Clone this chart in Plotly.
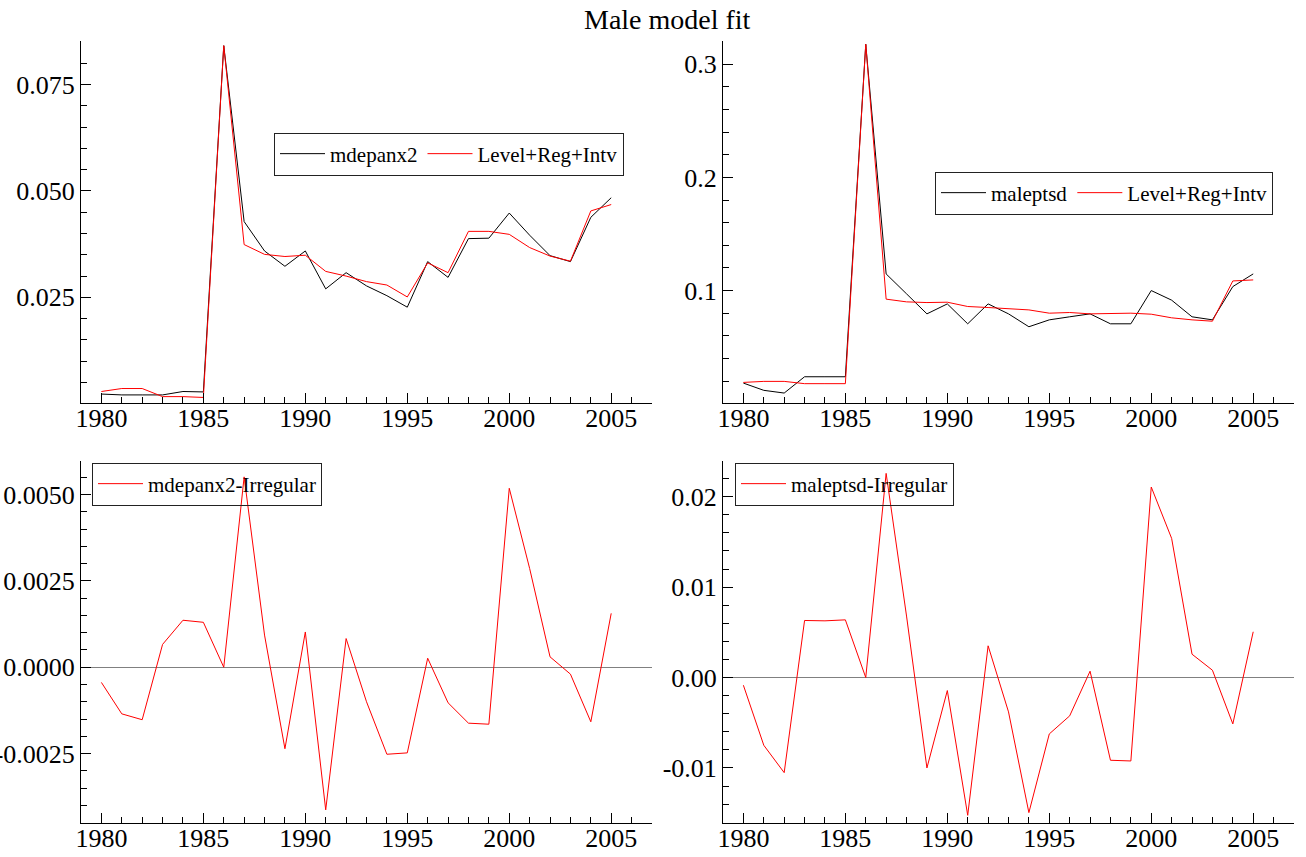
import plotly.graph_objects as go

years = list(range(1980, 2006))

mdepanx2 = [0.0023, 0.0021, 0.0021, 0.0021, 0.0029, 0.0028, 0.0841, 0.0428, 0.0359, 0.0323,
            0.0359, 0.0270, 0.0308, 0.0277, 0.0254, 0.0227, 0.0334, 0.0297, 0.0388, 0.0389,
            0.0448, 0.0396, 0.0348, 0.0334, 0.0438, 0.0484]
mdepanx2_fit = [0.0029, 0.0036, 0.0036, 0.0017, 0.0017, 0.0015, 0.0841, 0.0374, 0.0351, 0.0346,
                0.0349, 0.0311, 0.0300, 0.0287, 0.0279, 0.0251, 0.0331, 0.0308, 0.0405, 0.0405,
                0.0398, 0.0367, 0.0347, 0.0335, 0.0453, 0.0468]
maleptsd = [0.0182, 0.0118, 0.0094, 0.0238, 0.0238, 0.0238, 0.3177, 0.1147, 0.0971, 0.0794,
            0.0882, 0.0706, 0.0882, 0.0794, 0.0680, 0.0741, 0.0768, 0.0794, 0.0706, 0.0706,
            0.1000, 0.0915, 0.0768, 0.0741, 0.1035, 0.1147]
maleptsd_fit = [0.0188, 0.0197, 0.0197, 0.0177, 0.0177, 0.0177, 0.3177, 0.0924, 0.0900, 0.0894,
                0.0897, 0.0859, 0.0850, 0.0838, 0.0829, 0.0800, 0.0806, 0.0794, 0.0800, 0.0800,
                0.0791, 0.0759, 0.0741, 0.0729, 0.1085, 0.1094]
mdepanx2_irr = [-0.00044, -0.00135, -0.00152, 0.00066, 0.00136, 0.00130, 0.0, 0.00551, 0.00093, -0.00236,
                0.00102, -0.00413, 0.00083, -0.00100, -0.00252, -0.00248, 0.00026, -0.00103, -0.00162, -0.00165,
                0.00518, 0.00286, 0.00030, -0.00020, -0.00158, 0.00156]
maleptsd_irr = [-0.00085, -0.00749, -0.01052, 0.00631, 0.00627, 0.00638, 0.0, 0.02258, 0.0068, -0.0100,
                -0.00144, -0.01524, 0.00351, -0.00380, -0.01494, -0.00624, -0.00424, 0.00070, -0.00915, -0.00923,
                0.02107, 0.01539, 0.00258, 0.00081, -0.00513, 0.00506]

x_ticks = [1980, 1985, 1990, 1995, 2000, 2005]
x_ticktext = ["1980", "1985", "1990", "1995", "2000", "2005"]
tl_ticks = [0.025, 0.050, 0.075]
tl_text = ["0.025", "0.050", "0.075"]
tr_ticks = [0.1, 0.2, 0.3]
tr_text = ["0.1", "0.2", "0.3"]
bl_ticks = [-0.0025, 0.0, 0.0025, 0.0050]
bl_text = ["-0.0025", "0.0000", "0.0025", "0.0050"]
br_ticks = [-0.01, 0.0, 0.01, 0.02]
br_text = ["-0.01", "0.00", "0.01", "0.02"]

W, H = 1306, 857
FONT = "Liberation Serif"
RED = "#ff0000"

def px_x(a, b):
    return [a / W, b / W]

def px_y(top, bottom):
    return [(H - bottom) / H, (H - top) / H]

fig = go.Figure()
fig.add_trace(go.Scatter(x=years, y=mdepanx2, mode="lines", name="mdepanx2",
                         line=dict(color="black", width=1), xaxis="x", yaxis="y", legend="legend"))
fig.add_trace(go.Scatter(x=years, y=mdepanx2_fit, mode="lines", name="Level+Reg+Intv",
                         line=dict(color=RED, width=1), xaxis="x", yaxis="y", legend="legend"))
fig.add_trace(go.Scatter(x=years, y=maleptsd, mode="lines", name="maleptsd",
                         line=dict(color="black", width=1), xaxis="x2", yaxis="y2", legend="legend2"))
fig.add_trace(go.Scatter(x=years, y=maleptsd_fit, mode="lines", name="Level+Reg+Intv",
                         line=dict(color=RED, width=1), xaxis="x2", yaxis="y2", legend="legend2"))
fig.add_trace(go.Scatter(x=years, y=mdepanx2_irr, mode="lines", name="mdepanx2-Irregular",
                         line=dict(color=RED, width=1), xaxis="x3", yaxis="y3", legend="legend3"))
fig.add_trace(go.Scatter(x=years, y=maleptsd_irr, mode="lines", name="maleptsd-Irregular",
                         line=dict(color=RED, width=1), xaxis="x4", yaxis="y4", legend="legend4"))

tickfont = dict(family=FONT, size=26, color="black")

def xaxis(domain, anchor):
    return dict(domain=domain, anchor=anchor, range=[1979, 2007], automargin=False,
                tickvals=x_ticks, ticktext=x_ticktext, ticks="inside", ticklen=10,
                tickcolor="black", tickwidth=1,
                minor=dict(dtick=1, tick0=1979, ticks="inside", ticklen=6, tickcolor="black", tickwidth=1),
                showline=True, linecolor="black", linewidth=1, showgrid=False, zeroline=False,
                tickfont=tickfont, ticklabelstandoff=-8)

def yaxis(domain, anchor, rng, tv, tt, mdt, zl=False):
    return dict(domain=domain, anchor=anchor, range=rng, automargin=False,
                tickvals=tv, ticktext=tt, ticks="inside", ticklen=10,
                tickcolor="black", tickwidth=1,
                minor=dict(dtick=mdt, tick0=0, ticks="inside", ticklen=6, tickcolor="black", tickwidth=1),
                showline=True, linecolor="black", linewidth=1, showgrid=False,
                zeroline=zl, zerolinecolor="#808080", zerolinewidth=1,
                tickfont=tickfont, ticklabelstandoff=0)

legfont = dict(family=FONT, size=21, color="black")

def legend(xpx, ypx, horiz=True):
    return dict(x=xpx / W, y=(H - ypx) / H, xref="paper", yref="paper",
                xanchor="left", yanchor="middle",
                orientation="h" if horiz else "v",
                bgcolor="rgba(255,255,255,0)", bordercolor="#222222", borderwidth=1,
                font=legfont, itemwidth=45, tracegroupgap=0)

fig.update_layout(
    width=W, height=H,
    margin=dict(l=0, r=0, t=0, b=0, autoexpand=False),
    paper_bgcolor="white", plot_bgcolor="white",
    showlegend=True,
    xaxis=xaxis(px_x(81, 652), "y"),
    yaxis=yaxis(px_y(41, 403), "x", [0.0002, 0.0852], tl_ticks, tl_text, 0.005),
    xaxis2=xaxis(px_x(723, 1294), "y2"),
    yaxis2=yaxis(px_y(41, 403), "x2", [0.0006, 0.3206], tr_ticks, tr_text, 0.02),
    xaxis3=xaxis(px_x(81, 652), "y3"),
    yaxis3=yaxis(px_y(461, 823), "x3", [-0.00451, 0.00597], bl_ticks, bl_text, 0.0005, zl=True),
    xaxis4=xaxis(px_x(723, 1294), "y4"),
    yaxis4=yaxis(px_y(461, 823), "x4", [-0.01609, 0.02395], br_ticks, br_text, 0.002, zl=True),
    legend=legend(274, 154),
    legend2=legend(935, 193),
    legend3=legend(92, 484),
    legend4=legend(735, 484),
    annotations=[dict(text="Male model fit", x=667 / W, y=(H - 19) / H, xref="paper", yref="paper",
                      xanchor="center", yanchor="middle", showarrow=False,
                      font=dict(family=FONT, size=28, color="black"))],
)

fig.write_html("out.html", config={"displayModeBar": False},
               post_script="document.body.style.margin='0';")
